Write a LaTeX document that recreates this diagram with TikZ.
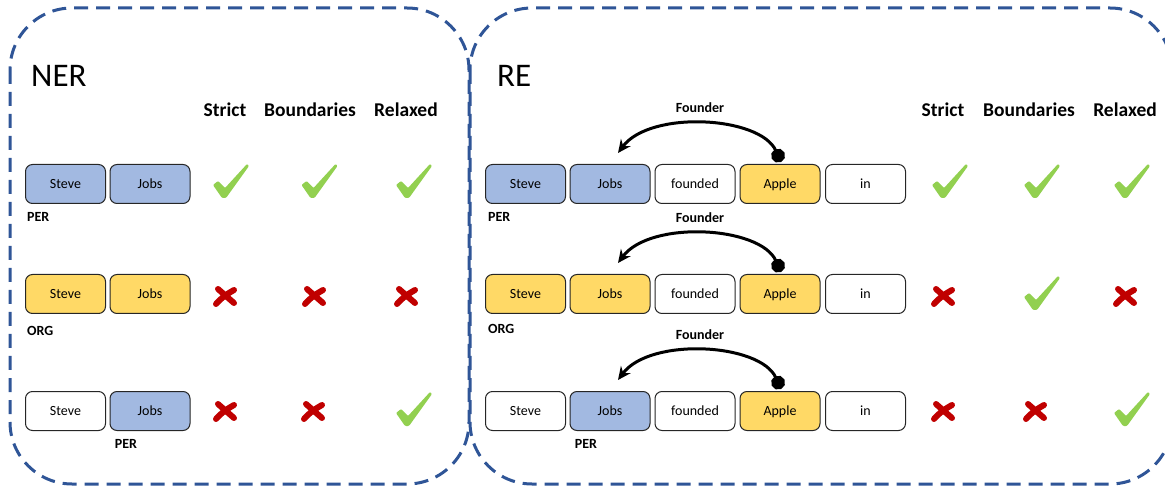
\documentclass[tikz,border=0pt]{standalone}
\usepackage{fontspec}
\setmainfont{Carlito}
\usetikzlibrary{arrows.meta}
\definecolor{frame}{RGB}{47,85,151}
\definecolor{bluef}{RGB}{162,185,225}
\definecolor{yellf}{RGB}{255,217,102}
\definecolor{okgreen}{RGB}{146,208,80}
\definecolor{nored}{RGB}{192,0,0}
\begin{document}
\begin{tikzpicture}[x=1pt,y=-1pt,
 wbox/.style={draw=black!85,line width=1pt,rounded corners=7pt,minimum width=80pt,minimum height=39pt,inner sep=0pt,text height=9pt,text depth=0pt,font=\fontsize{14}{16}\selectfont},
 perbox/.style={wbox,fill=bluef},
 orgbox/.style={wbox,fill=yellf},
 nobox/.style={wbox,fill=white},
 headtxt/.style={font=\bfseries\fontsize{19.5}{22}\selectfont,anchor=base,inner sep=0pt},
 labtxt/.style={font=\bfseries\fontsize{14}{16}\selectfont,inner sep=0pt},
 ttltxt/.style={font=\fontsize{33}{36}\selectfont,anchor=base west,inner sep=0pt},
 frm/.style={draw=frame,line width=3pt,dash pattern=on 14pt off 8pt,rounded corners=62pt},
 rel/.style={line width=3pt,{Circle[length=14pt]}-{Stealth[length=13pt,width=12pt]}},
 chk/.pic={\fill[okgreen,rounded corners=1pt] (-18,4) -- (-13,0) -- (-6,7) -- (16,-17) -- (18,-15) -- (-5,17) -- (-9,17) -- cycle;},
 crs/.pic={\draw[nored,line width=6pt,line cap=round] (-7,-7) -- (9,7) (9,-6) .. controls (2,-2) and (-4,2) .. (-9,8);}
]
\useasboundingbox (0,0) rectangle (1165,486);
% frames
\draw[frm] (10,8) rectangle (469,484);
\draw[frm] (470,8) rectangle (1172,484);
% titles
\node[ttltxt] (nert) at (31,87) {NER};
\node[ttltxt] (ret) at (497,87) {RE};
% headers
\node[headtxt] (h1) at (225,117) {Strict};
\node[headtxt] (h2) at (310,117) {Boundaries};
\node[headtxt] (h3) at (406,117) {Relaxed};
\node[headtxt] (h4) at (943,117) {Strict};
\node[headtxt] (h5) at (1029,117) {Boundaries};
\node[headtxt] (h6) at (1125,117) {Relaxed};
% NER rows
\node[perbox] (ns1) at (65.5,184) {Steve};
\node[perbox] (nj1) at (150,184) {Jobs};
\node[labtxt,anchor=west] (nl1) at (27,217) {PER};
\node[orgbox] (ns2) at (65.5,294) {Steve};
\node[orgbox] (nj2) at (150,294) {Jobs};
\node[labtxt,anchor=west] (nl2) at (27,331) {ORG};
\node[nobox] (ns3) at (65.5,411) {Steve};
\node[perbox] (nj3) at (150,411) {Jobs};
\node[labtxt] (nl3) at (126,444) {PER};
% RE rows
\foreach \r/\y/\sf/\jf in {1/184/perbox/perbox,2/294/orgbox/orgbox,3/411/nobox/perbox}{
  \node[\sf] (rs\r) at (525.5,\y) {Steve};
  \node[\jf] (rj\r) at (610,\y) {Jobs};
  \node[nobox] (rf\r) at (695,\y) {founded};
  \node[orgbox] (ra\r) at (780,\y) {Apple};
  \node[nobox] (ri\r) at (865.5,\y) {in};
  \node[labtxt] (fd\r) at (700,\y-76.5) {Founder};
  \draw[rel] ([xshift=1pt,yshift=22pt]ra\r.center) .. controls +(-21,-46) and +(32,-43) .. ([xshift=8pt,yshift=31pt]rj\r.center);
}
\node[labtxt,anchor=west] (rl1) at (488,217) {PER};
\node[labtxt,anchor=west] (rl2) at (488,329) {ORG};
\node[labtxt] (rl3) at (586,444) {PER};
% marks NER
\pic at (231,181) {chk};
\pic at (319.5,181) {chk};
\pic at (414,181) {chk};
\pic at (225,296) {crs};
\pic at (314,296) {crs};
\pic at (406,296) {crs};
\pic at (225,411) {crs};
\pic at (313,411) {crs};
\pic at (414,409) {chk};
% marks RE
\pic at (950,181) {chk};
\pic at (1042,181) {chk};
\pic at (1132,181) {chk};
\pic at (943,296) {crs};
\pic at (1042,293) {chk};
\pic at (1125,296) {crs};
\pic at (943,411) {crs};
\pic at (1035,411) {crs};
\pic at (1132,409) {chk};
\end{tikzpicture}
\end{document}
